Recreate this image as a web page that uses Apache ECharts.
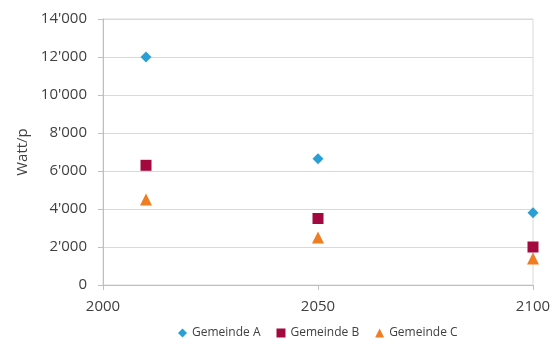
<!DOCTYPE html>
<html lang="de">
<head>
<meta charset="UTF-8" />
<title>Watt/p</title>
<script src="https://cdn.jsdelivr.net/npm/echarts@6/dist/echarts.min.js"></script>
<style>
  html, body { margin: 0; padding: 0; background: #fff; }
  #main { width: 554px; height: 344px; }
</style>
</head>
<body>
<div id="main"></div>
<script>
  const years = [2010, 2050, 2100]
  const gemeindeA = [12000, 6650, 3800]
  const gemeindeB = [6300, 3500, 2000]
  const gemeindeC = [4500, 2500, 1400]
  const seriesNames = ["Gemeinde A", "Gemeinde B", "Gemeinde C"]
  const xTicks = [2000, 2050, 2100]

  const fmt = (v) => String(v).replace(/\B(?=(\d{3})+(?!\d))/g, "'")
  const pairs = (vals) => years.map((y, i) => [y, vals[i]])

  const chart = echarts.init(document.getElementById("main"))
  const font = "'Open Sans', sans-serif"

  chart.setOption({
    animation: false,
    textStyle: { fontFamily: font },
    grid: {
      left: 103, right: 21, top: 19, bottom: 59,
      show: true, borderColor: "#d9d9d9", borderWidth: 1
    },
    legend: {
      top: 327,
      left: 173,
      padding: [0, 5],
      itemWidth: 9,
      itemHeight: 9,
      itemGap: 16,
      textStyle: { color: "#404040", fontSize: 12, fontFamily: font },
      data: [
        { name: seriesNames[0], icon: "diamond" },
        { name: seriesNames[1], icon: "rect" },
        { name: seriesNames[2], icon: "triangle" }
      ]
    },
    xAxis: {
      type: "value",
      min: xTicks[0],
      max: xTicks[xTicks.length - 1],
      interval: 50,
      axisLine: { show: true, lineStyle: { color: "#bfbfbf" } },
      axisTick: { show: true, length: 5, lineStyle: { color: "#bfbfbf" } },
      splitLine: { show: false },
      axisLabel: { color: "#404040", fontSize: 15, margin: 14, fontFamily: font, formatter: (v) => String(v) }
    },
    yAxis: {
      type: "value",
      min: 0,
      max: 14000,
      interval: 2000,
      name: "Watt/p",
      nameLocation: "middle",
      nameGap: 72,
      nameTextStyle: { color: "#404040", fontSize: 15, fontFamily: font },
      axisLine: { show: true, lineStyle: { color: "#bfbfbf" } },
      axisTick: { show: true, length: 5, lineStyle: { color: "#bfbfbf" } },
      splitLine: { show: true, lineStyle: { color: "#d9d9d9" } },
      axisLabel: { color: "#404040", fontSize: 15, margin: 16, formatter: fmt, fontFamily: font }
    },
    series: [
      {
        name: seriesNames[0], type: "scatter", symbol: "diamond", symbolSize: 11,
        itemStyle: { color: "#2a9fd4", opacity: 1 }, data: pairs(gemeindeA)
      },
      {
        name: seriesNames[1], type: "scatter", symbol: "rect", symbolSize: 11,
        itemStyle: { color: "#a3093e", opacity: 1 }, data: pairs(gemeindeB)
      },
      {
        name: seriesNames[2], type: "scatter", symbol: "triangle", symbolSize: 12,
        itemStyle: { color: "#ef7d22", opacity: 1 }, data: pairs(gemeindeC)
      }
    ]
  })
</script>
</body>
</html>
